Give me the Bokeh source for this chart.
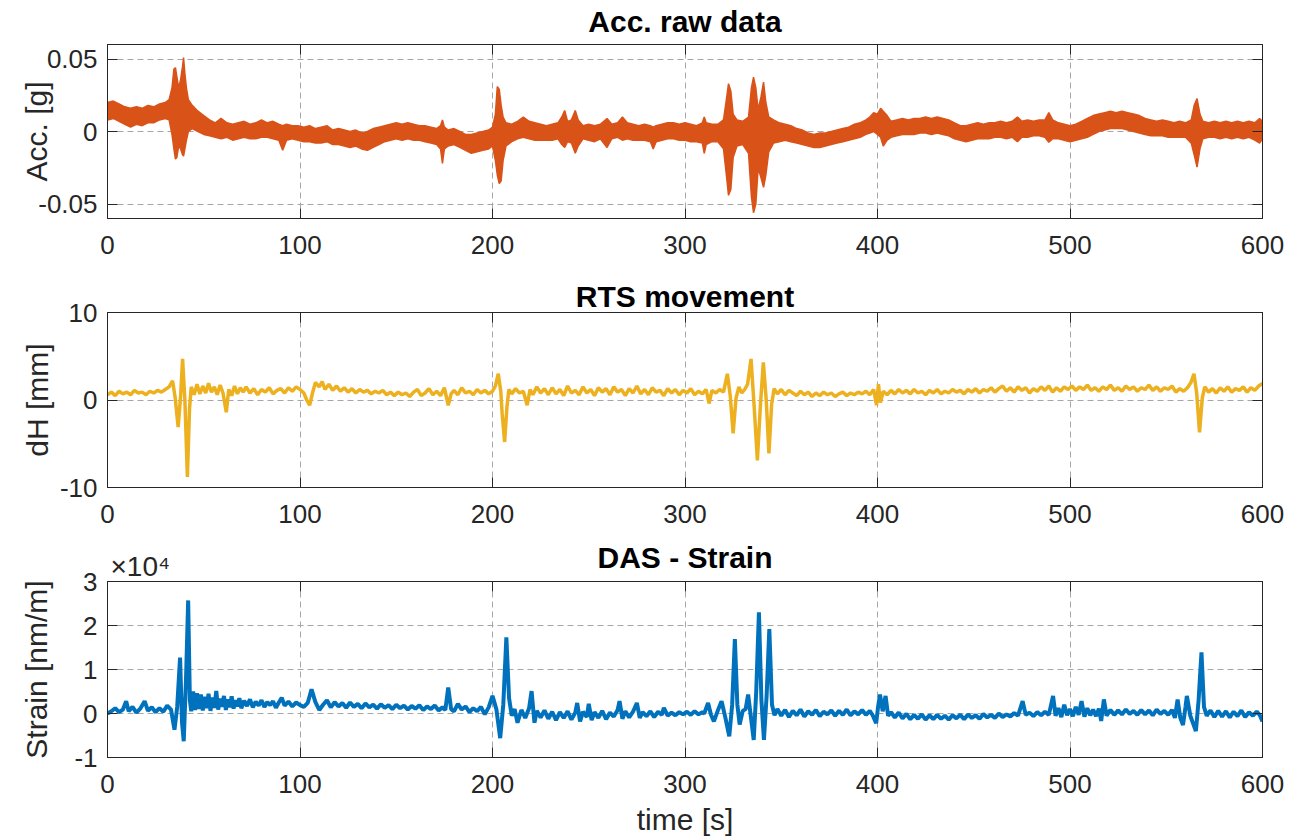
from bokeh.plotting import figure
from bokeh.layouts import column
from bokeh.models import FixedTicker, LinearAxis, Range1d, Title, CustomJSTickFormatter
from bokeh.embed import file_html
from bokeh.resources import INLINE

# ---------------- data ----------------
x_ticks = [0, 100, 200, 300, 400, 500, 600]

# Acc. raw data: envelope of the dense raw signal [g]
acc_t = [0, 3, 6, 9, 12, 15, 18, 21, 24, 27, 30, 32, 33.5, 34.5, 35.3, 36, 37, 38, 39, 39.5, 40.2, 41, 42, 44, 47, 50,
         53, 56, 59, 62, 65, 68, 71, 74, 77, 80, 83, 86, 89, 91, 93, 96, 99, 102, 105, 108, 111, 114, 117, 120, 123,
         126, 129, 132, 135, 138, 141, 144, 147, 150, 153, 156, 159, 162, 165, 168, 171, 173, 174, 175, 177, 180, 183,
         186, 189, 192, 195, 198, 200, 201.5, 202.5, 203.5, 204.5, 205.5, 207, 210, 213, 216, 219, 222, 225, 228, 231,
         234, 236, 237.5, 239, 241, 243, 244.5, 247, 250, 253, 256, 259.5, 262, 265, 267.5, 270, 273, 276, 279, 282,
         283.5, 285, 288, 291, 294, 297, 300, 303, 306, 309, 310, 311, 314, 317, 320, 321.5, 322.6, 323.8, 325, 327,
         330, 333, 334.5, 335.6, 336.8, 338, 339.5, 340.8, 342, 343.5, 346, 349, 352, 355, 358, 361, 364, 367, 370,
         373, 376, 379, 382, 385, 388, 391, 394, 396, 398, 400, 401.6, 403, 405, 407, 410, 413, 416, 419, 422, 425,
         428, 431, 434, 437, 440, 443, 446, 449, 452, 455, 458, 461, 464, 467, 470, 472.7, 475, 478, 481, 484, 487,
         489, 491, 494, 497, 500, 503, 506, 509, 512, 515, 518, 521, 524, 527, 530, 533, 536, 539, 542, 545, 548, 551,
         554, 557, 560, 563, 564.5, 566, 567.5, 569, 572, 575, 578, 581, 584, 587, 590, 593, 596, 598.5, 600]
acc_hi = [0.020, 0.021, 0.019, 0.017, 0.016, 0.017, 0.016, 0.018, 0.017, 0.019, 0.020, 0.022, 0.030, 0.043, 0.044,
          0.038, 0.030, 0.036, 0.045, 0.051, 0.040, 0.030, 0.022, 0.018, 0.014, 0.011, 0.008, 0.006, 0.009, 0.006,
          0.005, 0.006, 0.007, 0.005, 0.006, 0.008, 0.006, 0.007, 0.005, 0.004, 0.005, 0.004, 0.004, 0.003, 0.004,
          0.002, 0.003, 0.004, 0.001, 0.002, 0.001, 0.000, 0.001, -0.001, 0.000, 0.002, 0.003, 0.004, 0.005, 0.006,
          0.005, 0.006, 0.005, 0.004, 0.004, 0.003, 0.002, 0.004, 0.008, 0.003, 0.001, 0.002, 0.000, -0.002, -0.002,
          -0.001, 0.000, 0.001, 0.003, 0.012, 0.031, 0.029, 0.018, 0.010, 0.006, 0.005, 0.007, 0.010, 0.007, 0.006,
          0.005, 0.004, 0.005, 0.006, 0.010, 0.0145, 0.007, 0.008, 0.0145, 0.008, 0.004, 0.005, 0.004, 0.005, 0.009,
          0.005, 0.006, 0.010, 0.006, 0.005, 0.004, 0.005, 0.004, 0.003, 0.004, 0.005, 0.006, 0.006, 0.005, 0.006,
          0.005, 0.004, 0.006, 0.010, 0.006, 0.005, 0.005, 0.008, 0.022, 0.033, 0.028, 0.012, 0.008, 0.007, 0.010,
          0.030, 0.0375, 0.030, 0.015, 0.024, 0.034, 0.020, 0.010, 0.008, 0.006, 0.005, 0.004, 0.002, 0.001, -0.001,
          -0.002, -0.001, -0.001, 0.000, 0.001, 0.002, 0.003, 0.005, 0.006, 0.008, 0.010, 0.013, 0.012, 0.016, 0.014,
          0.011, 0.007, 0.008, 0.009, 0.008, 0.009, 0.009, 0.010, 0.009, 0.010, 0.009, 0.008, 0.006, 0.004, 0.004,
          0.005, 0.006, 0.005, 0.006, 0.006, 0.007, 0.006, 0.007, 0.010, 0.007, 0.008, 0.007, 0.008, 0.008, 0.013,
          0.008, 0.006, 0.005, 0.004, 0.005, 0.007, 0.009, 0.011, 0.012, 0.013, 0.014, 0.013, 0.014, 0.013, 0.012,
          0.011, 0.009, 0.008, 0.007, 0.008, 0.007, 0.006, 0.007, 0.006, 0.008, 0.018, 0.0227, 0.012, 0.007, 0.006,
          0.007, 0.006, 0.007, 0.006, 0.007, 0.006, 0.007, 0.006, 0.009, 0.007]
acc_lo = [0.008, 0.009, 0.007, 0.005, 0.003, 0.005, 0.004, 0.006, 0.006, 0.008, 0.009, 0.008, -0.002, -0.012, -0.019,
          -0.018, -0.010, -0.012, -0.016, -0.017, -0.012, -0.006, 0.000, 0.002, 0.000, -0.002, -0.003, -0.004, -0.005,
          -0.004, -0.006, -0.005, -0.004, -0.005, -0.005, -0.004, -0.004, -0.005, -0.006, -0.013, -0.006, -0.005,
          -0.006, -0.007, -0.007, -0.008, -0.008, -0.007, -0.009, -0.009, -0.010, -0.011, -0.010, -0.012, -0.013,
          -0.011, -0.009, -0.007, -0.006, -0.005, -0.006, -0.005, -0.006, -0.006, -0.007, -0.008, -0.009, -0.012,
          -0.022, -0.012, -0.010, -0.009, -0.011, -0.013, -0.015, -0.014, -0.013, -0.012, -0.010, -0.020, -0.030,
          -0.036, -0.034, -0.020, -0.010, -0.007, -0.005, -0.004, -0.005, -0.006, -0.006, -0.006, -0.006, -0.005,
          -0.009, -0.011, -0.007, -0.008, -0.015, -0.010, -0.005, -0.006, -0.007, -0.005, -0.011, -0.005, -0.004,
          -0.006, -0.005, -0.006, -0.006, -0.006, -0.007, -0.012, -0.007, -0.006, -0.005, -0.005, -0.006, -0.006,
          -0.007, -0.007, -0.008, -0.015, -0.009, -0.007, -0.007, -0.012, -0.030, -0.044, -0.040, -0.018, -0.010,
          -0.009, -0.015, -0.045, -0.056, -0.050, -0.025, -0.032, -0.0385, -0.030, -0.014, -0.008, -0.007, -0.006,
          -0.007, -0.008, -0.009, -0.010, -0.011, -0.011, -0.010, -0.009, -0.008, -0.007, -0.006, -0.005, -0.004,
          -0.002, -0.001, 0.000, -0.002, -0.004, -0.010, -0.006, -0.004, -0.003, -0.002, -0.002, -0.002, -0.001,
          -0.001, -0.002, -0.001, -0.002, -0.003, -0.005, -0.006, -0.007, -0.006, -0.005, -0.005, -0.005, -0.004,
          -0.004, -0.005, -0.004, -0.007, -0.004, -0.004, -0.003, -0.003, -0.004, -0.0074, -0.005, -0.005, -0.006,
          -0.007, -0.006, -0.005, -0.004, -0.002, 0.000, 0.001, 0.002, 0.002, 0.002, 0.001, 0.000, -0.001, -0.002,
          -0.003, -0.003, -0.003, -0.004, -0.004, -0.004, -0.004, -0.008, -0.016, -0.0246, -0.012, -0.005, -0.004,
          -0.004, -0.005, -0.004, -0.005, -0.004, -0.005, -0.004, -0.006, -0.008, -0.005]

# RTS movement dH [mm]
rts_t = [0, 2, 4, 6, 8, 10, 12, 14, 16, 18, 20, 22, 24, 26, 28, 30, 32, 33.8, 35.2, 36.7, 38, 39, 40.2, 41.5, 42.6,
         43.5, 45, 46.5, 48, 49.5, 51, 52.5, 54, 55.5, 57, 58.5, 60, 61.7, 63, 64.5, 66, 67.5, 69, 70.5, 72, 74, 76,
         78, 80, 82, 84, 86, 88, 90, 92, 94, 96, 98, 100, 102, 103.5, 105, 106.5, 108, 110, 111.5, 113, 115, 117,
         119, 121, 123, 125, 127, 129, 131, 133, 135, 137, 139, 141, 143, 145, 147, 149, 151, 153, 155, 157, 159,
         161, 163, 165, 167, 169, 171, 173, 175, 177, 178.5, 180, 182, 184, 186, 188, 190, 192, 194, 196, 198, 200,
         201.5, 203, 204.3, 205, 206.3, 207.5, 208.5, 210, 212, 214, 216, 218, 219.5, 221, 223, 225, 227, 229, 231,
         233, 235, 237, 239, 241, 243, 245, 247, 249, 251, 253, 255, 257, 259, 261, 263, 265, 267, 269, 271, 273,
         275, 277, 279, 281, 283, 285, 287, 289, 291, 293, 295, 297, 299, 301, 303, 305, 307, 309, 311, 312.5, 314,
         316, 318, 320, 322, 323.5, 325, 326.5, 328, 329.5, 331, 332.5, 334.3, 336, 337.6, 339.2, 340.7, 342.2,
         343.6, 345, 346.3, 348, 350, 352, 354, 356, 358, 360, 362, 364, 366, 368, 370, 372, 374, 376, 378, 380,
         382, 384, 386, 388, 390, 392, 394, 396, 398, 399.5, 400.5, 401.5, 403, 405, 407, 409, 411, 413, 415, 417,
         419, 421, 423, 425, 427, 429, 431, 433, 435, 437, 439, 441, 443, 445, 447, 449, 451, 453, 455, 457, 459,
         461, 463, 465, 467, 469, 471, 473, 475, 477, 479, 481, 483, 485, 487, 489, 491, 493, 495, 497, 499, 501,
         503, 505, 507, 509, 511, 513, 515, 517, 519, 521, 523, 525, 527, 529, 531, 533, 535, 537, 539, 541, 543,
         545, 547, 549, 551, 553, 555, 557, 559, 561, 562.8, 564.4, 565.8, 567.3, 568.7, 570, 572, 574, 576, 578,
         580, 582, 584, 586, 588, 590, 592, 594, 596, 598, 600]
rts_dh = [0.6, 0.9, 0.5, 1.0, 0.7, 0.9, 0.6, 1.1, 0.8, 0.9, 0.6, 1.0, 0.8, 1.1, 0.9, 1.2, 1.5, 2.2, 0.2, -3.1, 0.5,
          4.7, 0.0, -8.8, -1.0, 1.5, 0.6, 1.8, 0.7, 1.6, 0.8, 1.9, 0.9, 1.5, 0.6, 1.7, 0.8, -1.4, 1.2, 0.5, 1.6, 0.7,
          1.4, 0.9, 1.5, 0.8, 1.3, 0.6, 1.2, 0.9, 1.4, 0.7, 1.1, 1.3, 0.8, 1.4, 1.0, 1.5, 1.2, 0.8, 0.0, -0.6, 0.8,
          2.0, 1.5, 2.1, 1.2, 1.8, 1.1, 1.6, 1.0, 1.4, 0.9, 1.3, 0.8, 1.2, 0.9, 1.1, 0.7, 1.0, 0.8, 1.1, 0.6, 0.9,
          0.5, 0.9, 0.6, 0.8, 0.4, 0.9, 1.2, 0.5, 0.8, 1.3, 0.6, 1.0, 0.5, 1.4, -0.6, 0.7, 1.1, 0.6, 1.4, 0.8, 1.0,
          0.6, 1.2, 0.8, 1.1, 0.7, 1.0, 1.6, 3.0, 1.0, -1.5, -4.8, -0.8, 1.2, 0.7, 1.3, 0.8, 1.0, -0.6, 1.2, 0.6,
          1.5, 0.8, 1.3, 0.6, 1.4, 0.7, 1.2, 0.5, 1.6, 0.8, 1.1, 0.6, 1.5, 0.8, 1.2, 0.5, 1.4, 0.9, 1.3, 0.6, 1.5,
          0.9, 1.2, 0.5, 1.3, 0.8, 1.6, 0.7, 1.2, 0.6, 1.4, 0.9, 1.1, 0.5, 1.3, 0.8, 1.2, 0.6, 1.1, 0.8, 1.3, 0.6,
          1.0, 0.7, 1.2, -0.4, 1.1, 0.8, 1.2, 0.9, 3.0, 0.5, -3.8, 0.2, 1.5, 0.8, 1.2, 1.8, 4.7, -1.0, -6.9, -0.5,
          4.3, 0.0, -6.1, -0.5, 1.3, 0.7, 1.2, 0.6, 1.1, 0.8, 0.5, 1.0, 0.6, 0.9, 0.4, 0.8, 0.5, 0.9, 0.6, 0.8, 0.4,
          0.7, 0.9, 0.5, 0.8, 0.6, 0.9, 0.7, 1.0, 0.6, 1.2, -0.6, 1.8, -0.3, 1.0, 0.6, 1.1, 0.7, 1.2, 0.8, 1.1,
          0.7, 1.2, 0.8, 1.0, 0.6, 1.1, 0.8, 1.2, 0.7, 1.0, 0.8, 1.2, 0.9, 1.1, 0.7, 1.2, 0.9, 1.3, 0.8, 1.2, 1.0,
          1.4, 0.9, 1.3, 1.6, 1.0, 1.4, 0.9, 1.5, 1.1, 1.4, 0.8, 1.3, 1.0, 1.5, 1.1, 1.6, 0.9, 1.4, 1.0, 1.5, 1.2,
          1.6, 1.1, 1.5, 1.2, 1.7, 1.1, 1.4, 1.0, 1.5, 1.2, 1.7, 1.1, 1.4, 1.0, 1.6, 1.2, 1.5, 1.0, 1.4, 1.2, 1.7,
          1.1, 1.5, 1.0, 1.4, 1.2, 1.6, 0.9, 1.3, 1.0, 1.4, 2.0, 3.0, 0.8, -3.7, 0.2, 1.5, 0.9, 1.3, 0.8, 1.4, 1.0,
          1.5, 0.9, 1.3, 1.1, 1.5, 0.9, 1.4, 1.1, 1.6, 1.9]

# DAS - Strain [nm/m]
das_t = [0, 2, 4, 6, 8, 9.7, 11, 13, 15, 17, 19.3, 21, 23, 25, 27, 29, 31, 33, 34.8, 36.2, 37.7, 38.7, 39.6, 40.8,
         41.9, 42.8, 43.5, 44.5, 45.5, 46.5, 47.5, 48.5, 49.5, 50.5, 51.5, 52.5, 53.5, 54.5, 55.5, 56.5, 57.5, 58.5,
         59.5, 60.5, 61.5, 62.5, 63.5, 64.5, 65.5, 66.5, 67.5, 68.5, 69.5, 71, 72.5, 74, 75.5, 77, 78.5, 80, 81.5,
         83, 84.5, 86, 87.5, 89, 90.5, 92, 94, 96, 98, 100, 102, 104, 106, 108, 110, 112, 114, 116, 118, 120, 122,
         124, 126, 128, 130, 132, 134, 136, 138, 140, 142, 144, 146, 148, 150, 152, 154, 156, 158, 160, 162, 164,
         166, 168, 170, 172, 174, 175.5, 177, 178.5, 180, 182, 184, 186, 188, 190, 192, 194, 196, 198, 200, 202,
         204, 205.6, 207.2, 208.6, 210, 211.5, 213, 215, 217, 219, 220.3, 221.8, 223, 225, 227, 229, 231, 233, 235,
         237, 239, 241, 243, 244, 245.5, 247, 249, 250, 251.5, 253, 255, 257, 259, 261, 263, 265, 266, 267.5, 269,
         271, 273, 275, 276.5, 278, 280, 282, 284, 286, 288, 289, 291, 293, 295, 297, 299, 301, 303, 305, 307, 309,
         310, 312, 313.5, 315, 317, 319, 321, 323, 324.5, 325.9, 327.2, 328.4, 330, 331.5, 332.8, 334.3, 335.7,
         337, 338.4, 339.7, 341, 342.4, 343.8, 345.2, 346.5, 348, 350, 352, 354, 356, 358, 360, 362, 364, 366, 368,
         370, 372, 374, 376, 378, 380, 382, 384, 386, 388, 390, 392, 394, 396, 397.5, 399.3, 400.3, 401.3, 402.7,
         404.2, 405.5, 407, 409, 411, 413, 415, 417, 419, 421, 423, 425, 427, 429, 431, 433, 435, 437, 439, 441,
         443, 445, 447, 449, 451, 453, 455, 457, 459, 461, 463, 465, 467, 469, 471, 473, 475.4, 477, 479, 481, 483,
         485, 487, 489, 491.2, 492.5, 494, 495.5, 497, 498.5, 500, 501.5, 503, 504.5, 506, 507.5, 509, 510.5, 512,
         513.5, 515, 516.2, 517.6, 519, 521, 523, 525, 527, 529, 531, 533, 535, 537, 539, 541, 543, 545, 547, 549,
         551, 553, 554.5, 555.9, 557.3, 558.7, 560, 560.7, 562.5, 565.4, 566.8, 568.3, 569.6, 571, 573, 575, 577,
         579, 581, 583, 585, 587, 589, 591, 593, 595, 597, 598.5, 600]
das_strain = [0, 500, 1200, 300, 900, 2800, 500, 1500, 200, 1100, 2800, 600, 1400, 300, 1200, 400, 1800, 900, -3700,
              1500, 12700, -2000, -6300, 8000, 25700, 3000, 500, 5000, 800, 4600, 1000, 4300, 700, 3800, 1200, 4500,
              600, 3600, 1300, 5100, 900, 3400, 1500, 4000, 800, 3200, 1400, 3900, 1100, 3000, 1600, 3500, 1200,
              2900, 1700, 3200, 1400, 2700, 1800, 3000, 1500, 2600, 1900, 2800, 1300, 2500, 3600, 1800, 2700, 1600,
              2500, 1900, 1500, 2400, 5500, 2600, 800, 2000, 3000, 1400, 2600, 1600, 2400, 1300, 2500, 1500, 2200,
              1200, 2300, 1400, 2000, 1100, 2100, 1300, 1900, 1000, 2000, 1200, 1800, 900, 1700, 1100, 1900, 800,
              1600, 1000, 1800, 700, 1400, 800, 5900, 1000, 500, 2200, 900, 1600, 300, 1200, 500, 1500, -200, 1400,
              4000, 1000, -5600, 2000, 17300, 3500, -500, 1000, -2100, 800, -1000, 1200, 5100, -2100, 600, -900, 700,
              -1200, 400, -1500, 300, -1000, 500, -1400, 200, 2400, -1800, 400, -800, 2200, -1500, 300, -1000, 600,
              -1300, 200, -700, 800, 2800, -1200, 500, -900, 400, 2400, -1000, 300, -600, 500, -800, 400, -300, 1300,
              -500, 200, -400, 300, -200, 400, -300, 500, -200, 300, 0, 2400, -300, -1800, 600, 2800, -1000, -5200,
              2000, 16900, 2000, -2500, 600, 1000, 4300, -1000, -6000, 5000, 23000, 3000, -6000, 4000, 19200, 2000,
              -400, 1000, -500, 800, -800, 600, -400, 900, -700, 500, -300, 800, -600, 400, -200, 700, -500, 600,
              -300, 900, -400, 500, -200, 800, -300, 600, -400, -2200, 1500, 4300, 500, 4000, -500, 300, -900, 200,
              -1100, -100, -1300, -300, -1200, -200, -1400, -400, -1300, -300, -1200, -500, -1400, -400, -1100, -300,
              -1300, -200, -1000, -400, -1200, -100, -900, -300, -1000, 0, -800, -200, -700, 100, -500, 2800, -300,
              200, -600, 300, -400, 400, -300, 4000, -500, 1200, -800, 2000, -400, 1000, -600, 1500, -300, 2800, -700,
              1200, -400, 900, -600, 1100, -1700, 3200, -500, 800, -300, 700, -200, 900, -100, 600, -300, 800, -200,
              700, -400, 900, -100, 600, -300, 800, -1000, 3200, -1000, -2600, 1500, 4000, -500, -4000, 3000, 13900,
              1500, -500, 700, -800, 600, -700, 500, -900, 400, -600, 700, -800, 300, -500, 400, -300, -1800]

acc_ticks = [-0.05, 0, 0.05]
rts_ticks = [-10, 0, 10]
das_ticks = [-10000, 0, 10000, 20000, 30000]
das_exponent = "\u00d710\u2074"

# ---------------- styling ----------------
FONT = "Liberation Sans"
INK = "#262626"
ACC_COLOR = "#D95319"
RTS_COLOR = "#EDB120"
DAS_COLOR = "#0072BD"
TICK_PX = "26px"
LABEL_PX = "30px"


def hidden_axis(ticks):
    return LinearAxis(ticker=FixedTicker(ticks=ticks), major_label_text_font_size="1px",
                      major_label_text_color=None, major_label_standoff=0, major_tick_in=10,
                      major_tick_out=0, minor_tick_line_color=None, axis_line_color=INK,
                      major_tick_line_color=INK)


def style_title(t, standoff, valign="bottom"):
    t.align = "center"
    t.vertical_align = valign
    t.text_font = FONT
    t.text_font_size = LABEL_PX
    t.text_font_style = "bold"
    t.text_color = "#000000"
    try:
        t.standoff = standoff
    except Exception:
        t.standoff = 0


def make_fig(height, top, bottom, y_lo, y_hi, yticks, title, ylabel, ylabel_standoff, fmt_code, xlabel=None,
             title_standoff=8, title_valign="bottom"):
    p = figure(width=1307, height=height, x_range=Range1d(0, 600), y_range=Range1d(y_lo, y_hi),
               output_backend="svg", toolbar_location=None, title=title,
               min_border_left=107, min_border_right=45, min_border_top=top, min_border_bottom=bottom,
               background_fill_color="white", border_fill_color="white")
    if p.title is not None:
        style_title(p.title, title_standoff, title_valign)
    p.outline_line_color = INK
    p.outline_line_width = 1

    for ax in (p.xaxis[0], p.yaxis[0]):
        ax.major_label_text_font = FONT
        ax.major_label_text_font_size = TICK_PX
        ax.major_label_text_color = INK
        ax.axis_label_text_font = FONT
        ax.axis_label_text_font_size = LABEL_PX
        ax.axis_label_text_font_style = "normal"
        ax.axis_label_text_color = INK
        ax.axis_line_color = INK
        ax.major_tick_line_color = INK
        ax.major_tick_in = 10
        ax.major_tick_out = 0
        ax.minor_tick_line_color = None

    p.xaxis[0].ticker = FixedTicker(ticks=x_ticks)
    p.xaxis[0].major_label_standoff = 17
    if xlabel:
        p.xaxis[0].axis_label = xlabel
        p.xaxis[0].axis_label_standoff = 7
    p.yaxis[0].ticker = FixedTicker(ticks=yticks)
    p.yaxis[0].formatter = CustomJSTickFormatter(code=fmt_code)
    p.yaxis[0].major_label_standoff = 10
    p.yaxis[0].axis_label = ylabel
    p.yaxis[0].axis_label_standoff = ylabel_standoff

    p.xgrid.ticker = FixedTicker(ticks=x_ticks)
    p.ygrid.ticker = FixedTicker(ticks=yticks)
    for g in (p.xgrid, p.ygrid):
        g.grid_line_color = "#a6a6a6"
        g.grid_line_dash = "6 4"
        g.grid_line_width = 1

    # tick marks on the right and top sides (box on), without labels
    p.add_layout(hidden_axis(yticks), "right")
    p.add_layout(hidden_axis(x_ticks), "above")
    return p


p1 = make_fig(265, 44, 47, -0.06, 0.06, acc_ticks, "Acc. raw data", "Acc. [g]", -18,
              "return tick == 0 ? '0' : tick.toFixed(2);", title_standoff=9, title_valign="top")
p1.varea(x=acc_t, y1=acc_lo, y2=acc_hi, fill_color=ACC_COLOR)
p1.line(acc_t, acc_hi, line_color=ACC_COLOR, line_width=1.5)
p1.line(acc_t, acc_lo, line_color=ACC_COLOR, line_width=1.5)

p2 = make_fig(265, 47, 43, -10, 10, rts_ticks, "RTS movement", "dH [mm]", 3,
              "return tick.toFixed(0);", title_standoff=0)
p2.line(rts_t, rts_dh, line_color=RTS_COLOR, line_width=3.5)

# third panel: titles added by hand so that the exponent and the title share the band above the frame
p3 = make_fig(310, 51, 83, -10000, 30000, das_ticks, None, "Strain [nm/m]", 18,
              "return (tick / 10000).toFixed(0);", xlabel="time [s]")
p3.line(das_t, das_strain, line_color=DAS_COLOR, line_width=4)
exp_title = Title(text=das_exponent, align="left", offset=3, vertical_align="bottom",
                  text_font=FONT, text_font_size="28px", text_font_style="normal", text_color=INK)
exp_title.standoff = 0
p3.add_layout(exp_title, "above")
main_title = Title(text="DAS - Strain")
style_title(main_title, -51)
p3.add_layout(main_title, "above")

layout = column(p1, p2, p3)
open("out.html", "w").write(file_html(layout, INLINE))
